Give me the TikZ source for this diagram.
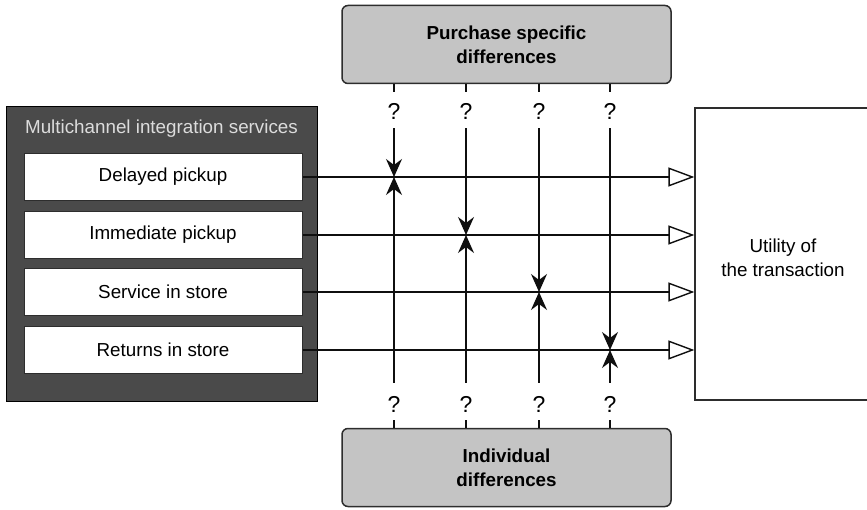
\documentclass[tikz,border=0pt]{standalone}
\usepackage{fontspec}
\setmainfont{Liberation Sans}
\usetikzlibrary{arrows.meta}

\definecolor{panelfill}{RGB}{74,74,74}
\definecolor{paneltext}{RGB}{220,220,220}
\definecolor{groupfill}{RGB}{196,196,196}
\definecolor{edge}{RGB}{45,45,45}
\definecolor{wire}{RGB}{15,15,15}

\tikzset{
  basefont/.style={font=\fontsize{18.8}{24}\selectfont},
  panel/.style={draw=black, line width=0.8pt, fill=panelfill,
    minimum width=311pt, minimum height=295pt, inner sep=0pt},
  service/.style={draw=edge, line width=1pt, fill=white, basefont,
    minimum width=278pt, minimum height=47pt, inner sep=0pt},
  group/.style={draw=edge, line width=1.5pt, fill=groupfill, rounded corners=6pt,
    font=\fontsize{18.8}{24}\selectfont\bfseries, align=center,
    minimum width=329pt, minimum height=78pt, inner sep=0pt},
  outcome/.style={draw=edge, line width=1.3pt, fill=white,
    minimum width=175pt, minimum height=292pt, inner sep=0pt},
  qmark/.style={font=\fontsize{23}{24}\selectfont, inner sep=0pt},
  qtop/.style={qmark, text height=27.2pt, text depth=8.8pt},
  qbot/.style={qmark, text height=29.2pt, text depth=7.8pt},
  link/.style={draw=wire, line width=1.4pt},
  feed/.style={link, -{Triangle[open, length=26pt, width=19pt, line width=1.4pt]}},
  effect/.style={link, -{Stealth[length=18pt, width=16pt, inset=6pt]}},
}

\begin{document}
\begin{tikzpicture}[x=1pt, y=-1pt]
\useasboundingbox (0,0) rectangle (867,510);

% left panel with the four services
\node[panel] (panel) at (161.5,253.5) {};
\node[basefont, text=paneltext] (title) at (161.5,129) {Multichannel integration services};
\node[service] (s1) at (163,177) {Delayed pickup};
\node[service] (s2) at (163,235) {Immediate pickup};
\node[service] (s3) at (163,292) {Service in store};
\node[service] (s4) at (163,350) {Returns in store};

% moderating groups
\node[group] (purchase) at (506.5,44.5) {Purchase specific\\differences};
\node[group] (individual) at (506.5,467.5) {Individual\\differences};

% outcome box, open on the right
\node[outcome] (utility) at (782.5,254) {};
\node[basefont, align=center] (utiltext) at (783,257.5) {Utility of\\the transaction};

% question marks
\foreach \i/\x in {1/394,2/466,3/539,4/610}{
  \node[qtop] (qt\i) at (\x,110) {?};
  \node[qbot] (qb\i) at (\x,401.5) {?};
}

% service lines into the outcome
\foreach \i in {1,...,4}{
  \draw[feed] (s\i.east) -- (s\i.east -| utility.west);
}

% moderating arrows onto each service line
\foreach \i in {1,...,4}{
  \draw[link] (purchase.south -| qt\i.north) -- (qt\i.north);
  \draw[effect] (qt\i.south) -- (qt\i.south |- s\i.east);
  \draw[link] (qb\i.south) -- (individual.north -| qb\i.south);
  \draw[effect] (qb\i.north) -- (qb\i.north |- s\i.east);
}
\end{tikzpicture}
\end{document}
